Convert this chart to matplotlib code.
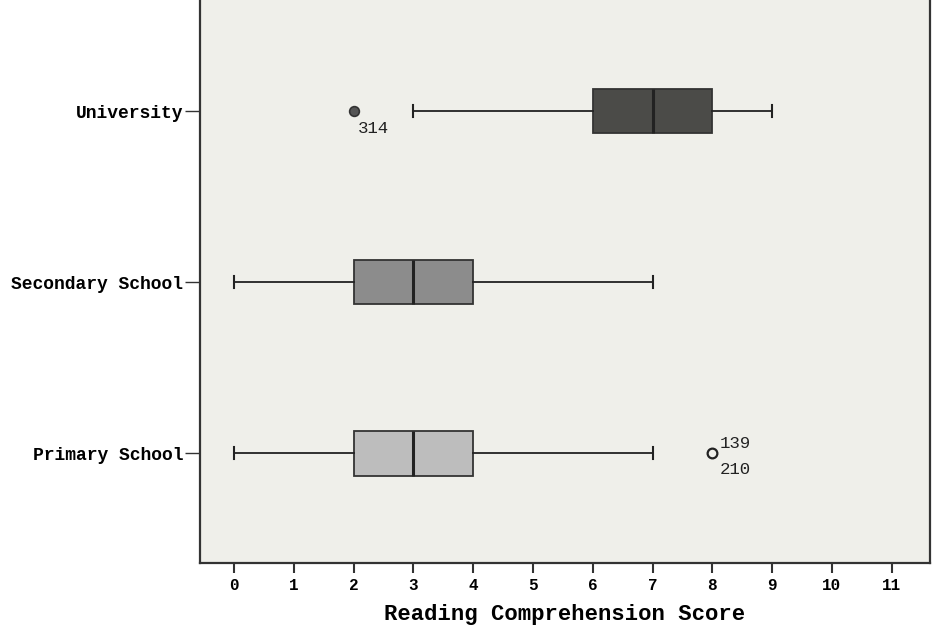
import matplotlib
matplotlib.use("Agg")
import matplotlib.pyplot as plt

groups = ["Primary School", "Secondary School", "University"]
whislo = [0, 0, 3]
q1 = [2, 2, 6]
med = [3, 3, 7]
q3 = [4, 4, 8]
whishi = [7, 7, 9]
outliers = [[8], [], [2]]
box_colors = ["#bdbdbd", "#8c8c8c", "#4b4b48"]
flier_labels = {0: ["139", "210"], 2: ["314"]}
xticks = list(range(0, 12))

font = "Liberation Mono"

fig = plt.figure(figsize=(9.32, 6.26), dpi=100)
fig.patch.set_facecolor("white")
ax = fig.add_axes([200 / 932, 1 - 563 / 626, 730 / 932, 565 / 626])
ax.set_facecolor("#efefea")

stats = []
for i, g in enumerate(groups):
    stats.append(dict(label=g, whislo=whislo[i], q1=q1[i], med=med[i],
                      q3=q3[i], whishi=whishi[i], fliers=outliers[i]))

positions = [1, 2, 3]
bp = ax.bxp(stats, positions=positions, vert=False, widths=0.26,
            patch_artist=True, showfliers=False,
            medianprops=dict(color="#222222", linewidth=2.2),
            whiskerprops=dict(color="#222222", linewidth=1.3),
            capprops=dict(color="#222222", linewidth=1.5),
            boxprops=dict(edgecolor="#333333", linewidth=1.3),
            capwidths=0.07)
for patch, c in zip(bp["boxes"], box_colors):
    patch.set_facecolor(c)

# outliers
ax.plot(outliers[2], [positions[2]], "o", ms=7, mfc="#555555", mec="#333333", mew=1.2)
ax.plot(outliers[0], [positions[0]], "o", ms=7, mfc="none", mec="#222222", mew=1.6)
ax.annotate(flier_labels[2][0], (outliers[2][0], positions[2]), xytext=(3, -16),
            textcoords="offset points", fontsize=12.5, family=font, color="#222222")
ax.annotate(flier_labels[0][0], (outliers[0][0], positions[0]), xytext=(5, 4),
            textcoords="offset points", fontsize=12.5, family=font, color="#222222")
ax.annotate(flier_labels[0][1], (outliers[0][0], positions[0]), xytext=(5, -15),
            textcoords="offset points", fontsize=12.5, family=font, color="#222222")

ax.set_xlim(-0.57, 11.64)
ax.set_ylim(0.36, 3.66)
ax.set_xticks(xticks)
ax.set_xticklabels([str(t) for t in xticks], family=font, fontsize=11.5, fontweight="bold")
ax.set_yticks(positions)
ax.set_yticklabels(groups, family=font, fontsize=13, fontweight="bold")
ax.tick_params(axis="x", length=7, width=1.5, color="#333333", pad=4)
ax.tick_params(axis="y", length=11, width=1, color="#333333", pad=1)
ax.set_xlabel("Reading Comprehension Score", family=font, fontsize=16,
              fontweight="bold", labelpad=8)
for s in ax.spines.values():
    s.set_color("#333333")
    s.set_linewidth(1.6)

fig.savefig("out.png", dpi=100)
